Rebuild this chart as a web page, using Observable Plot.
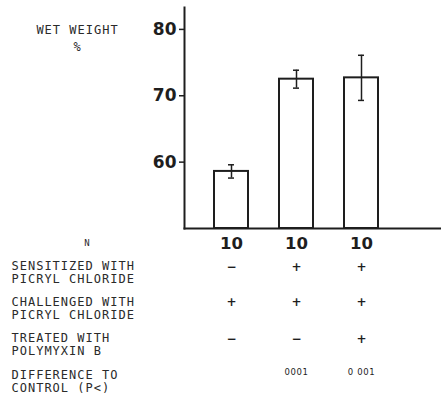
<!DOCTYPE html>
<html><head><meta charset="utf-8">
<script src="https://cdn.jsdelivr.net/npm/d3@7"></script>
<script src="https://cdn.jsdelivr.net/npm/@observablehq/plot@0.6"></script>
<style>
html,body{margin:0;padding:0;background:#fff;}
#chart svg{display:block;}
</style></head><body><div id="chart"></div>
<script>
// ---- data ----
const groups = ["A", "B", "C"];
const means = [58.6, 72.5, 72.7];
const errors = [1.0, 1.35, 3.4];
const yTicks = [60, 70, 80];
const yDomain = [50, 83.3];
const nValues = ["10", "10", "10"];
const sensitized = ["\u2212", "+", "+"];
const challenged = ["+", "+", "+"];
const treated = ["\u2212", "\u2212", "+"];
const pValues = ["", "0001", "0 001"];
const yTitle = ["WET WEIGHT", "%"];
const rowLabels = ["N", "SENSITIZED WITH\nPICRYL CHLORIDE", "CHALLENGED WITH\nPICRYL CHLORIDE", "TREATED WITH\nPOLYMYXIN B", "DIFFERENCE TO\nCONTROL (P<)"];

// ---- layout ----
const W = 441, H = 399, mL = 184, mT = 7, mB = 171;
const ink = "#1e1e1e";
const mono = "DejaVu Sans Mono";
const sans = "DejaVu Sans";

const bars = groups.map((g, i) => ({group: g, mean: means[i], lo: means[i] - errors[i], hi: means[i] + errors[i]}));
const rowValues = [nValues, sensitized, challenged, treated, pValues];
const rowDy = [20, 42, 77, 114, 146];
const labelDy = [11, 32, 68, 104.5, 141];
const rowStyle = [
  {fontSize: 16.5, fontWeight: "bold", fontFamily: sans},
  {fontSize: 12, fontWeight: "bold", fontFamily: sans},
  {fontSize: 12, fontWeight: "bold", fontFamily: sans},
  {fontSize: 12, fontWeight: "bold", fontFamily: sans},
  {fontSize: 8.5, fontWeight: "normal", fontFamily: sans}
];

const tableMarks = [];
rowValues.forEach((vals, r) => {
  tableMarks.push(Plot.text(groups, {
    x: d => d, text: (d, i) => vals[i], frameAnchor: "bottom", dy: rowDy[r],
    fill: ink, ...rowStyle[r]
  }));
  const isN = r === 0;
  tableMarks.push(Plot.text([rowLabels[r]], {
    text: d => d, frameAnchor: "bottom-left",
    dx: isN ? 87 - mL : 11 - mL, dy: labelDy[r],
    textAnchor: isN ? "middle" : "start", lineAnchor: "top", lineHeight: 1.09,
    fontSize: isN ? 9 : 12, fontFamily: mono, fill: "#2a2a2a"
  }));
});

const chart = Plot.plot({
  width: W, height: H,
  marginLeft: mL, marginRight: 0, marginTop: mT, marginBottom: mB,
  style: {background: "#fff", color: ink, overflow: "visible"},
  x: {type: "band", domain: groups, paddingInner: 0.477, paddingOuter: 0, insetLeft: 29.7, insetRight: 63.3, axis: null},
  y: {domain: yDomain, axis: null},
  marks: [
    Plot.barY(bars, {x: "group", y1: yDomain[0], y2: "mean", fill: "white", stroke: ink, strokeWidth: 2}),
    Plot.frame({anchor: "left", stroke: ink, strokeWidth: 2}),
    Plot.frame({anchor: "bottom", stroke: ink, strokeWidth: 2}),
    Plot.axisY(yTicks, {anchor: "left", tickSize: 5, tickPadding: 3, fontSize: 17, fontWeight: "bold", fontFamily: sans, stroke: ink, strokeWidth: 1.5, fill: ink, tickFormat: d => String(d)}),
    Plot.ruleX(bars, {x: "group", y1: "lo", y2: "hi", stroke: ink, strokeWidth: 1.5}),
    Plot.tickY(bars, {x: "group", y: "lo", insetLeft: 14, insetRight: 14, stroke: ink, strokeWidth: 1.5}),
    Plot.tickY(bars, {x: "group", y: "hi", insetLeft: 14, insetRight: 14, stroke: ink, strokeWidth: 1.5}),
    Plot.text([yTitle.join("\n")], {text: d => d, frameAnchor: "top-left", dx: 77 - mL, dy: 14, textAnchor: "middle", lineAnchor: "top", lineHeight: 1.42, fontSize: 12, fontFamily: mono, fill: "#2a2a2a"}),
    ...tableMarks
  ]
});
// letter-spacing for the lettering-style labels
d3.select(chart).selectAll("g").each(function() {
  const ff = this.getAttribute("font-family");
  const fs = this.getAttribute("font-size");
  if (ff === mono) this.setAttribute("letter-spacing", "1.0");
  else if (fs === "8.5") this.setAttribute("letter-spacing", "0.6");
});
document.getElementById("chart").append(chart);
</script></body></html>
